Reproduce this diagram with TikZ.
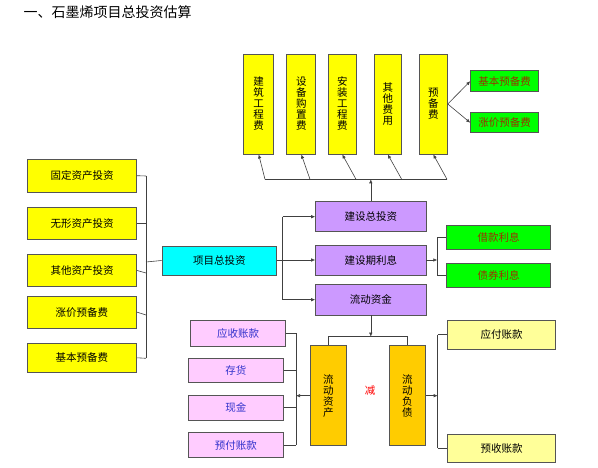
\documentclass[tikz,border=0pt]{standalone}
\usepackage{fontspec}
\setmainfont{Noto Sans CJK SC}
\usetikzlibrary{arrows.meta}
\definecolor{boxyellow}{HTML}{FFFF00}
\definecolor{boxcyan}{HTML}{00FFFF}
\definecolor{boxpurple}{HTML}{CC99FF}
\definecolor{boxgreen}{HTML}{00FF00}
\definecolor{boxpink}{HTML}{FFCCFF}
\definecolor{boxgold}{HTML}{FFCC00}
\definecolor{boxlight}{HTML}{FFFF99}
\definecolor{greentext}{HTML}{993300}
\definecolor{pinktext}{HTML}{3333CC}
\definecolor{linegrey}{HTML}{404040}
\definecolor{edgegrey}{HTML}{555555}
\tikzset{
  base/.style={draw=edgegrey, line width=0.9pt, inner sep=0pt, align=center,
    font=\fontsize{10.5}{11}\selectfont},
  ybox/.style={base, fill=boxyellow},
  cbox/.style={base, fill=boxcyan},
  pbox/.style={base, fill=boxpurple},
  gbox/.style={base, fill=boxgreen, text=greentext},
  kbox/.style={base, fill=boxpink, text=pinktext},
  obox/.style={base, fill=boxgold},
  lbox/.style={base, fill=boxlight},
  conn/.style={draw=linegrey, line width=0.6pt},
  arr/.style={conn, -{Latex[length=4pt,width=3.5pt]}},
}
\begin{document}
\begin{tikzpicture}[x=1pt,y=-1pt]
\useasboundingbox (0,0) rectangle (598,468);
\node[anchor=west, font=\fontsize{14}{16}\selectfont] (title) at (20,12) {一、石墨烯项目总投资估算};

% top vertical boxes
\node[ybox, minimum width=30pt, minimum height=100pt] (t1) at (258.7,104) {建\\筑\\工\\程\\费};
\node[ybox, minimum width=29pt, minimum height=100pt] (t2) at (301.3,104) {设\\备\\购\\置\\费};
\node[ybox, minimum width=27.5pt, minimum height=100pt] (t3) at (342.3,104) {安\\装\\工\\程\\费};
\node[ybox, minimum width=27.5pt, minimum height=100pt] (t4) at (387.8,104) {其\\他\\费\\用};
\node[ybox, minimum width=28pt, minimum height=100pt] (t5) at (433.3,104) {预\\备\\费};

\node[gbox, minimum width=67.6pt, minimum height=21pt] (g1) at (504.5,81.2) {基本预备费};
\node[gbox, minimum width=67.6pt, minimum height=20pt] (g2) at (504.5,122.7) {涨价预备费};

% left boxes
\node[ybox, minimum width=109.4pt, minimum height=32.7pt] (l1) at (82,175.7) {固定资产投资};
\node[ybox, minimum width=109.4pt, minimum height=32pt] (l2) at (82,223.3) {无形资产投资};
\node[ybox, minimum width=109.4pt, minimum height=32.4pt] (l3) at (82,270.5) {其他资产投资};
\node[ybox, minimum width=109.4pt, minimum height=32.3pt] (l4) at (82,312.2) {涨价预备费};
\node[ybox, minimum width=109.4pt, minimum height=29pt] (l5) at (82,357.8) {基本预备费};

\node[cbox, minimum width=114.7pt, minimum height=29pt] (c) at (219.3,260.5) {项目总投资};

% purple
\node[pbox, minimum width=110.3pt, minimum height=30pt] (p1) at (370.8,216.7) {建设总投资};
\node[pbox, minimum width=110.3pt, minimum height=30pt] (p2) at (370.8,260) {建设期利息};
\node[pbox, minimum width=110.3pt, minimum height=30.7pt] (p3) at (370.8,299.7) {流动资金};

\node[gbox, minimum width=104pt, minimum height=24.3pt] (i1) at (498.7,237.2) {借款利息};
\node[gbox, minimum width=104pt, minimum height=23.7pt] (i2) at (498.7,275.8) {债券利息};

% gold
\node[obox, minimum width=36.7pt, minimum height=100pt] (a1) at (328.3,395.7) {流\\动\\资\\产};
\node[obox, minimum width=36.7pt, minimum height=100pt] (a2) at (407.3,395.7) {流\\动\\负\\债};
\node[text=red, font=\fontsize{10.5}{11}\selectfont] (minus) at (370,390.7) {减};

% pink
\node[kbox, minimum width=94.6pt, minimum height=25.3pt] (k1) at (238,333.3) {应收账款};
\node[kbox, minimum width=95pt, minimum height=24.4pt] (k2) at (235.8,370.5) {存货};
\node[kbox, minimum width=95pt, minimum height=24.7pt] (k3) at (235.8,407.7) {现金};
\node[kbox, minimum width=95pt, minimum height=25pt] (k4) at (235.8,445.2) {预付账款};

% light yellow
\node[lbox, minimum width=108pt, minimum height=28.3pt] (y1) at (501.7,334.8) {应付账款};
\node[lbox, minimum width=108pt, minimum height=28.3pt] (y2) at (501.7,448.2) {预收账款};

% top bracket
\coordinate (tb1) at (265,179.3);
\coordinate (tb2) at (310,179.3);
\coordinate (tb3) at (356,179.3);
\coordinate (tb4) at (401.7,179.3);
\coordinate (tb5) at (447,179.3);
\coordinate (tbm) at (p1.north |- tb1);
\draw[conn] (tb1) -- (tb5);
\draw[arr] (p1.north) -- (tbm);
\draw[arr] (tb1) -- (t1.south);
\draw[arr] (tb2) -- (t2.south);
\draw[arr] (tb3) -- (t3.south);
\draw[arr] (tb4) -- (t4.south);
\draw[arr] (tb5) -- (t5.south);

\draw[arr] (t5.east) -- (g1.west);
\draw[arr] (t5.east) -- (g2.west);

% left bracket
\coordinate (lb1) at (146,176);
\coordinate (lb5) at (146,358.3);
\coordinate (lbm) at (146,262);
\draw[conn] (lb1) -- (lb5);
\draw[conn] (l1.east) -- (lb1);
\draw[conn] (l2.east) -- (l2.east -| lb1);
\draw[conn] (l3.east) -- (146,273);
\draw[conn] (l4.east) -- (146,315);
\draw[conn] (l5.east) -- (lb5);
\draw[conn] (lbm) -- (c.west);

% cyan to purple
\coordinate (cb) at (282.7,260.5);
\draw[conn] (c.east) -- (cb);
\draw[conn] (cb |- p1.west) -- (cb |- p3.west);
\draw[arr] (cb |- p1.west) -- (p1.west);
\draw[arr] (cb |- p2.west) -- (p2.west);
\draw[arr] (cb |- p3.west) -- (p3.west);

% interest
\coordinate (ib) at (437.3,260);
\draw[arr] (p2.east) -- (ib);
\draw[conn] (ib |- i1.west) -- (ib |- i2.west);
\draw[conn] (ib |- i1.west) -- (i1.west);
\draw[conn] (ib |- i2.west) -- (i2.west);

% working capital
\coordinate (wb) at (p3.south |- 0,336.7);
\draw[arr] (p3.south) -- (wb);
\draw[conn] (a1.north) |- (wb) -| (a2.north);

% current assets
\coordinate (ab) at (296,395.7);
\draw[arr] (a1.west) -- (ab);
\draw[conn] (296,333.3) -- (296,445.2);
\draw[conn] (k1.east) -- (296,333.3);
\draw[conn] (k2.east) -- (k2.east -| ab);
\draw[conn] (k3.east) -- (k3.east -| ab);
\draw[conn] (k4.east) -- (k4.east -| ab);

% current liabilities
\coordinate (lbr) at (437.7,395.7);
\draw[arr] (a2.east) -- (lbr);
\draw[conn] (lbr |- y1.west) -- (lbr |- y2.west);
\draw[conn] (lbr |- y1.west) -- (y1.west);
\draw[conn] (lbr |- y2.west) -- (y2.west);
\end{tikzpicture}
\end{document}
